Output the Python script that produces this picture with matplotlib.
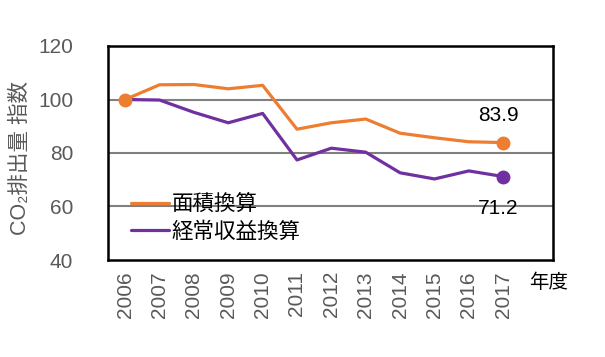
import matplotlib
matplotlib.use("Agg")
import matplotlib.pyplot as plt

plt.rcParams['font.family'] = ['Liberation Sans', 'Noto Sans CJK JP', 'DejaVu Sans']

years = ["2006", "2007", "2008", "2009", "2010", "2011", "2012", "2013", "2014", "2015", "2016", "2017"]
area = [100, 105.5, 105.6, 104.0, 105.3, 88.9, 91.3, 92.7, 87.4, 85.7, 84.2, 83.9]
revenue = [100, 99.8, 95.2, 91.3, 94.8, 77.4, 81.8, 80.3, 72.6, 70.3, 73.3, 71.2]
series_names = ["面積換算", "経常収益換算"]
yticks = [40, 60, 80, 100, 120]

orange = "#ED7D31"
purple = "#7030A0"
gray_text = "#595959"

fig = plt.figure(figsize=(6.05, 3.57), dpi=100)
ax = fig.add_axes([108/605, 1 - 260/357, (553-108)/605, (260-46)/357])

x = list(range(len(years)))
ax.plot(x, revenue, color=purple, lw=2.3, solid_capstyle='round', solid_joinstyle='round', label=series_names[1], zorder=3)
ax.plot(x, area, color=orange, lw=2.3, solid_capstyle='round', solid_joinstyle='round', label=series_names[0], zorder=3)
ax.plot([x[-1]], [revenue[-1]], 'o', color=purple, ms=9, zorder=4)
ax.plot([x[-1]], [area[-1]], 'o', color=orange, ms=9, zorder=4)
ax.plot([x[0]], [area[0]], 'o', color=orange, ms=9, zorder=4)

ax.text(x[-1] - 0.15, area[-1] + 10.3, f"{area[-1]:.1f}", fontsize=15, ha='center', va='center', color='black')
ax.text(x[-1] - 0.15, revenue[-1] - 11.8, f"{revenue[-1]:.1f}", fontsize=15, ha='center', va='center', color='black')

ax.set_xlim(-0.5, 12.45)
ax.set_ylim(40, 120)
ax.set_yticks(yticks)
ax.set_yticklabels([str(v) for v in yticks], fontsize=15, color=gray_text)
ax.set_xticks(x)
ax.set_xticklabels(years, rotation=90, fontsize=15, color=gray_text)
ax.tick_params(axis='both', length=0, pad=8)
ax.tick_params(axis='y', pad=25)

for v in [60, 80, 100]:
    ax.axhline(v, color="#808080", lw=1.5, zorder=1)
for s in ax.spines.values():
    s.set_color("black")
    s.set_linewidth(1.8)

ax.set_ylabel("CO₂排出量 指数", fontsize=15.5, color=gray_text, labelpad=6)
ax.yaxis.set_label_coords(-0.172, 0.475)

handles, labels = ax.get_legend_handles_labels()
leg = ax.legend(handles[::-1], labels[::-1], loc='lower left', bbox_to_anchor=(0.018, 0.01),
                frameon=False, fontsize=15.5, handlelength=1.75, handletextpad=0.12,
                labelspacing=0.3, borderaxespad=0.3)

fig.text(549/605, 1 - 283/357, "年度", fontsize=14, ha='center', va='center', color='black')

fig.savefig("out.png", dpi=100)
